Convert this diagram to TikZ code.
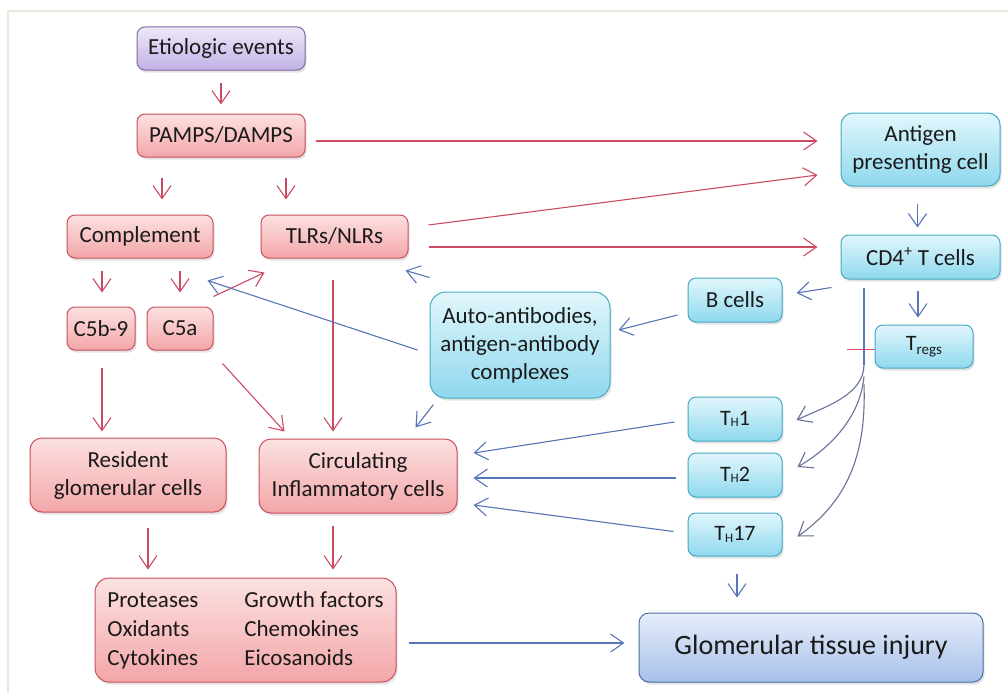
\documentclass[tikz,border=0pt]{standalone}
\usepackage{fontspec}
\setmainfont{Carlito}
\usetikzlibrary{arrows.meta,shadows}
\definecolor{textc}{HTML}{1A1A1A}
\definecolor{redb}{HTML}{C9505E}
\definecolor{redtop}{HTML}{FCE1E1}
\definecolor{redbot}{HTML}{F3A6A8}
\definecolor{blueb}{HTML}{46A9C3}
\definecolor{bluetop}{HTML}{E2F7FC}
\definecolor{bluebot}{HTML}{8ED8EE}
\definecolor{purb}{HTML}{7F6AA6}
\definecolor{purtop}{HTML}{EEE8F8}
\definecolor{purbot}{HTML}{C2B1E6}
\definecolor{glomb}{HTML}{4A6FA5}
\definecolor{glomtop}{HTML}{E6EDF9}
\definecolor{glombot}{HTML}{A7C0EA}
\definecolor{redl}{HTML}{CC4B62}
\definecolor{inhibc}{HTML}{E0506E}
\definecolor{bluel}{HTML}{5676B8}
\definecolor{curvel}{HTML}{6A7198}
\definecolor{framec}{HTML}{EEE9DD}
\tikzset{
  base/.style={draw, rounded corners=8pt, line width=1pt, align=center, inner sep=2pt,
    font=\fontsize{23}{28}\selectfont, text=textc,
    drop shadow={opacity=0.22, shadow xshift=1.5pt, shadow yshift=-2.5pt}},
  rbox/.style={base, draw=redb, top color=redtop, bottom color=redbot},
  bbox/.style={base, draw=blueb, top color=bluetop, bottom color=bluebot},
  pbox/.style={base, draw=purb, top color=purtop, bottom color=purbot},
  gbox/.style={base, draw=glomb, top color=glomtop, bottom color=glombot, rounded corners=10pt},
  rarr/.style={draw=redl, line width=1.1pt, -{Straight Barb[length=13pt,width=18pt,line width=1.1pt]}},
  barr/.style={draw=bluel, line width=1.1pt, -{Straight Barb[length=13pt,width=18pt,line width=1.1pt]}},
  carr/.style={draw=curvel, line width=1.1pt, -{Straight Barb[length=13pt,width=18pt,line width=1.1pt]}},
  bline/.style={draw=bluel, line width=1.3pt},
  inhib/.style={color=inhibc, line width=1.6pt},
  th/.style={font=\fontsize{22}{26}\selectfont},
}
\newcommand{\subH}{{\fontsize{13}{13}\selectfont\raisebox{-1.5pt}{H}}}
\begin{document}
\begin{tikzpicture}[x=1pt,y=-1pt]
\useasboundingbox (0,0) rectangle (1008,693);
\fill[white] (0,0) rectangle (1008,693);
\draw[framec, line width=1.5pt] (1008,11) -- (8,11) -- (8,693);

% nodes
\node[pbox, minimum width=168pt, minimum height=43pt] (etio) at (221,48.5) {Etiologic events};
\node[rbox, minimum width=168pt, minimum height=43pt] (pamps) at (221,135.5) {PAMPS/DAMPS};
\node[rbox, minimum width=146pt, minimum height=43pt] (comp) at (140,236.5) {Complement};
\node[rbox, minimum width=147pt, minimum height=43pt] (tlrs) at (334.5,236.5) {TLRs/NLRs};
\node[rbox, minimum width=68pt, minimum height=43pt] (c5b) at (101,328.5) {C5b-9};
\node[rbox, minimum width=66pt, minimum height=43pt] (c5a) at (180,328.5) {C5a};
\node[bbox, minimum width=159pt, minimum height=73pt, rounded corners=12pt] (apc) at (920.5,149.5) {Antigen\\presenting cell};
\node[bbox, minimum width=159pt, minimum height=44pt] (cd4) at (920.5,257) {CD4\textsuperscript{+} T cells};
\node[bbox, minimum width=94pt, minimum height=44pt] (bc) at (735,300) {B cells};
\node[bbox, minimum width=180pt, minimum height=106pt, rounded corners=16pt] (auto) at (520,345) {Auto-antibodies,\\antigen-antibody\\complexes};
\node[bbox, minimum width=98pt, minimum height=43pt, th] (treg) at (924,346.5) {T\raisebox{-4pt}{\fontsize{15}{15}\selectfont regs}};
\node[bbox, minimum width=94pt, minimum height=44pt, th] (th1) at (735,419) {T\subH 1};
\node[bbox, minimum width=94pt, minimum height=44pt, th] (th2) at (735,475) {T\subH 2};
\node[bbox, minimum width=94pt, minimum height=43pt, th] (th17) at (735,534.5) {T\subH 17};
\node[rbox, minimum width=196pt, minimum height=74pt, rounded corners=12pt] (res) at (128,475) {Resident\\glomerular cells};
\node[rbox, minimum width=198pt, minimum height=74pt, rounded corners=12pt] (circ) at (358,476) {Circulating\\Inflammatory cells};
\node[rbox, minimum width=301pt, minimum height=104pt, rounded corners=14pt, align=left, font=\fontsize{23}{29}\selectfont] (prod) at (245.5,630)
  {\makebox[137pt][l]{Proteases}Growth factors\\\makebox[137pt][l]{Oxidants}Chemokines\\\makebox[137pt][l]{Cytokines}Eicosanoids};
\node[gbox, minimum width=344pt, minimum height=69pt, font=\fontsize{28}{32}\selectfont] (glom) at (811,647.5) {Glomerular tissue injury};

% red connectors
\draw[rarr] ([yshift=-12pt]etio.south) -- ([yshift=9pt]pamps.north);
\draw[rarr] ([xshift=-59pt,yshift=-20pt]pamps.south) -- ([xshift=22pt,yshift=15pt]comp.north);
\draw[rarr] ([xshift=65pt,yshift=-20pt]pamps.south) -- ([xshift=-48.5pt,yshift=15pt]tlrs.north);
\draw[rarr] ([xshift=10pt,yshift=-5.5pt]pamps.east) -- ([xshift=-23pt,yshift=8.5pt]apc.west);
\draw[rarr] ([xshift=20pt,yshift=11.5pt]tlrs.east) -- ([xshift=-23pt,yshift=-25.5pt]apc.west);
\draw[rarr] ([xshift=20pt,yshift=-10.5pt]tlrs.east) -- ([xshift=-23pt,yshift=10pt]cd4.west);
\draw[rarr] ([xshift=-38pt,yshift=-12pt]comp.south) -- ([xshift=1pt,yshift=14pt]c5b.north);
\draw[rarr] ([xshift=40pt,yshift=-12pt]comp.south) -- ([yshift=14pt]c5a.north);
\draw[rarr] ([yshift=10pt]c5a.north east) -- ([xshift=4pt,yshift=-14pt]tlrs.south west);
\draw[rarr] ([xshift=9pt,yshift=-13pt]c5a.south east) -- ([xshift=26pt,yshift=7pt]circ.north west);
\draw[rarr] ([xshift=1pt,yshift=-17pt]c5b.south) -- ([xshift=-26pt,yshift=6pt]res.north);
\draw[rarr] ([xshift=-1.5pt,yshift=-21pt]tlrs.south) -- ([xshift=-25pt,yshift=7pt]circ.north);
\draw[rarr] ([xshift=20pt,yshift=-15pt]res.south) -- ([xshift=-97.5pt,yshift=8pt]prod.north);
\draw[rarr] ([xshift=-25pt,yshift=-12pt]circ.south) -- ([xshift=87.5pt,yshift=8pt]prod.north);

% blue connectors
\draw[barr] ([xshift=-3pt,yshift=-17pt]apc.south) -- ([xshift=-3pt,yshift=7pt]cd4.north);
\draw[barr] ([xshift=-9pt,yshift=-8pt]cd4.south west) -- ([xshift=14pt,yshift=7pt]bc.east);
\draw[barr] ([xshift=-2.5pt,yshift=-11pt]cd4.south) -- ([xshift=-6pt,yshift=7pt]treg.north);
\draw[barr] ([xshift=-10pt,yshift=-15pt]bc.west) -- ([xshift=8pt,yshift=15pt]auto.east);
\draw[barr] ([xshift=-12pt,yshift=-5pt]auto.west) -- ([xshift=-6pt,yshift=-22pt]comp.south east);
\draw[barr] ([yshift=14pt]auto.north west) -- ([xshift=-3pt,yshift=-12pt]tlrs.south east);
\draw[barr] ([xshift=4pt,yshift=-6pt]auto.south west) -- ([xshift=-42pt,yshift=11pt]circ.north east);
\draw[barr] ([xshift=-13pt,yshift=-3pt]th1.west) -- ([xshift=16pt,yshift=23pt]circ.east);
\draw[barr] ([xshift=-12pt,yshift=-3pt]th2.west) -- ([xshift=16pt,yshift=-2pt]circ.east);
\draw[barr] ([xshift=-14pt,yshift=3pt]th17.west) -- ([xshift=16pt,yshift=-29pt]circ.east);
\draw[barr] ([xshift=2pt,yshift=-17pt]th17.south) -- ([xshift=-74pt,yshift=15pt]glom.north);
\draw[barr] ([xshift=12pt,yshift=-13pt]prod.east) -- ([xshift=-14pt,yshift=4.5pt]glom.west);

% CD4 branching to TH subsets
\coordinate (cdtop) at ([xshift=-56.5pt,yshift=-8pt]cd4.south);
\coordinate (split) at ([xshift=-56.5pt,yshift=-85pt]cd4.south);
\draw[bline] (cdtop) -- (split);
\draw[carr] (split) to[out=-90,in=25,looseness=0.9] ([xshift=14pt,yshift=-1pt]th1.east);
\draw[carr] ([yshift=-12pt]split) to[out=-95,in=30,looseness=0.9] ([xshift=15pt,yshift=8pt]th2.east);
\draw[carr] ([yshift=-20pt]split) to[out=-88,in=35,looseness=1] ([xshift=15pt,yshift=-2pt]th17.east);

% Treg inhibition bar
\coordinate (barend) at ([xshift=-28pt,yshift=-3pt]treg.west);
\draw[inhib] ([yshift=-3pt]treg.west) -- (barend);
\end{tikzpicture}
\end{document}
